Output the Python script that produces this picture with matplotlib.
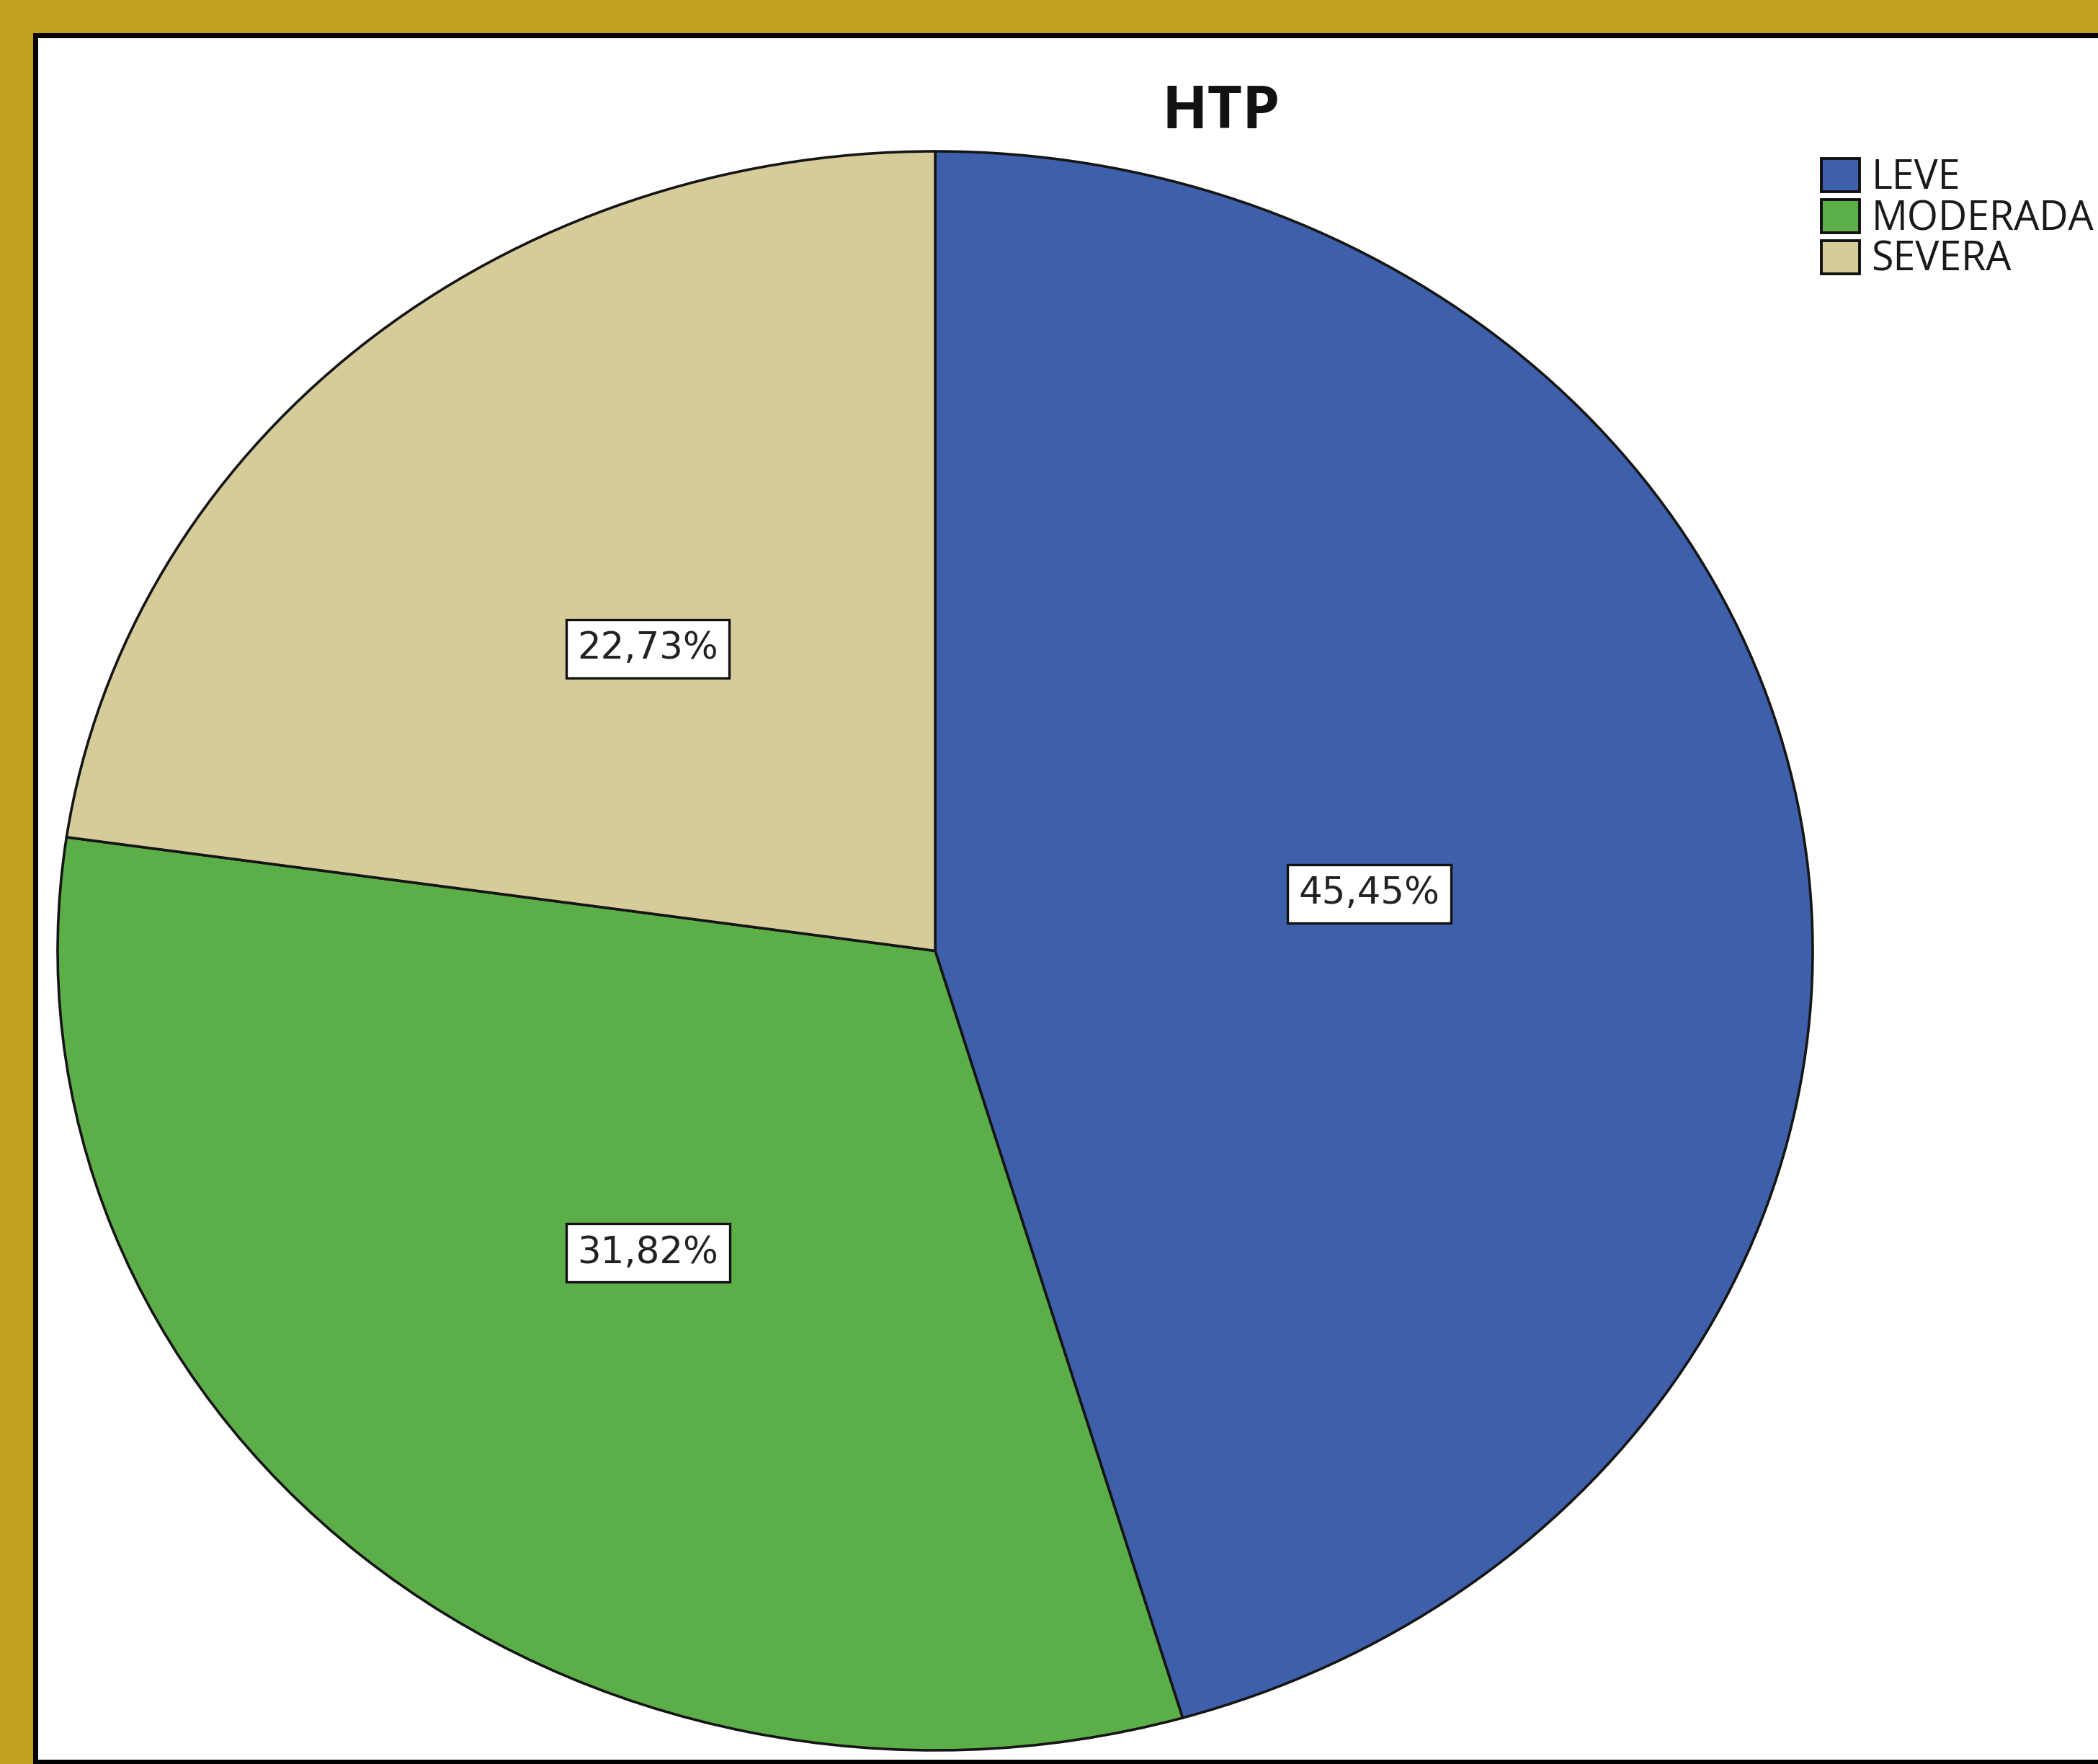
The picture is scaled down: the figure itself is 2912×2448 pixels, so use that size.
import matplotlib.pyplot as plt
from matplotlib.patches import Rectangle

# datos
categorias = ['LEVE', 'MODERADA', 'SEVERA']
porcentajes = [45.45, 31.82, 22.73]
colores = ['#3E5FAA', '#5CAE48', '#D5CC9A']
titulo = 'HTP'

W, H = 2912, 2448
fig = plt.figure(figsize=(W / 100, H / 100), dpi=100)
fig.patch.set_facecolor('#C4A020')

# panel blanco con borde negro
panel = Rectangle((49 / W, 3 / H), 1.2, (H - 52) / H, transform=fig.transFigure,
                  facecolor='white', edgecolor='black', linewidth=5, zorder=-5)
fig.patches.append(panel)

ax = fig.add_axes([80 / W, 19 / H, 2436 / W, 2219 / H])
ax.set_zorder(1)
wedges, texts, autotexts = ax.pie(
    porcentajes, colors=colores, startangle=90, counterclock=False,
    autopct=lambda p: f'{p:.2f}%'.replace('.', ','), pctdistance=0.5,
    wedgeprops=dict(edgecolor='#151515', linewidth=2.6),
    textprops=dict(fontsize=37, color='#222222'))
for t in autotexts:
    t.set_bbox(dict(boxstyle='square,pad=0.3', facecolor='white', edgecolor='#111111', linewidth=2.4))
ax.set_aspect('auto')
ax.set_xlim(-1, 1)
ax.set_ylim(-1, 1)

# titulo
fig.text(1695 / W, 1 - 156 / H, titulo, ha='center', va='center',
         fontsize=60, fontweight='bold', family='Open Sans', color='#111111')

# leyenda
leg = fig.legend(wedges, categorias, loc='upper left', bbox_to_anchor=(2528 / W, 1 - 219 / H),
                 frameon=False, handlelength=0.95, handleheight=0.88,
                 handletextpad=0.3, labelspacing=0.0, borderpad=0, borderaxespad=0,
                 prop=dict(family='Open Sans', size=40))
leg.set_zorder(2)
for h in leg.legend_handles:
    h.set_edgecolor('#111111')
    h.set_linewidth(2.8)
for t in leg.get_texts():
    t.set_color('#1a1a1a')

plt.savefig('out.png', dpi=100, facecolor=fig.get_facecolor())
